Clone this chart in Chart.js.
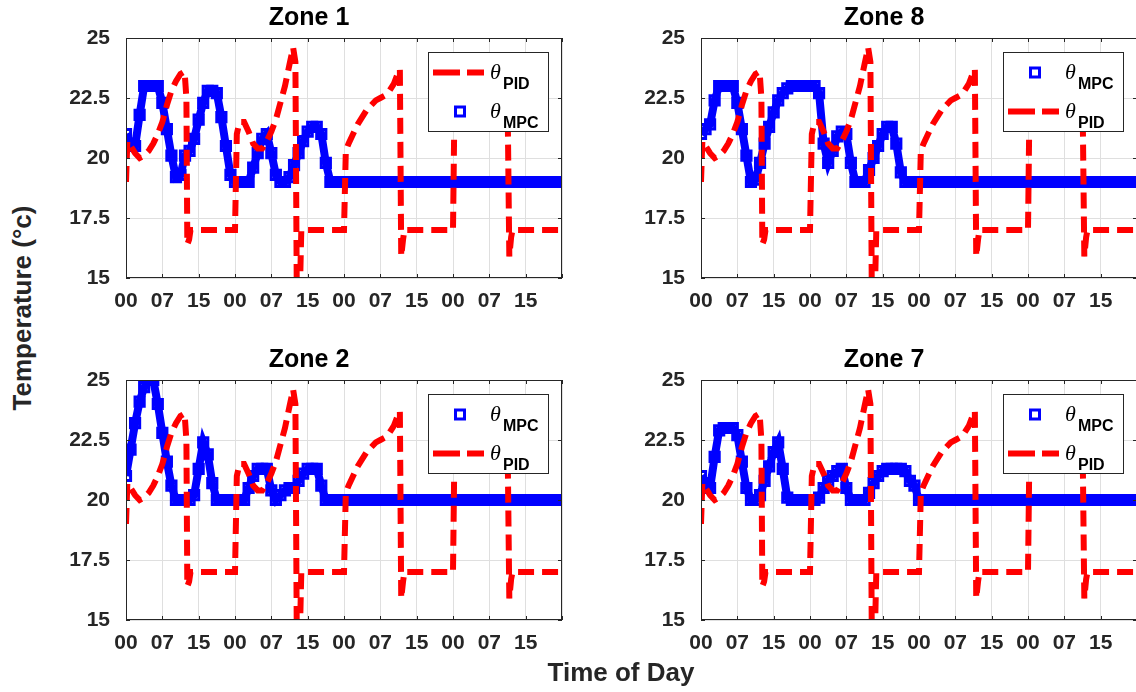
<!DOCTYPE html>
<html>
<head>
<meta charset="utf-8">
<script src="https://cdn.jsdelivr.net/npm/chart.js@4.4.1/dist/chart.umd.min.js"></script>
<style>
  html, body { margin: 0; padding: 0; background: #fff; }
  body { position: relative; width: 1136px; height: 692px; overflow: hidden; font-family: "Liberation Sans", Arial, sans-serif; }
  canvas { position: absolute; }
  .axis-label { position: absolute; font-weight: bold; font-size: 26px; color: #262626; white-space: nowrap; transform: translate(-50%, -50%); }
  #yLabel { left: 22px; top: 308px; transform: translate(-50%, -50%) rotate(-90deg); }
  #xLabel { left: 621px; top: 672px; }
</style>
</head>
<body>
<canvas id="zone1" width="520" height="318" style="left:56px;top:0px"></canvas>
<canvas id="zone8" width="520" height="318" style="left:631px;top:0px"></canvas>
<canvas id="zone2" width="520" height="318" style="left:56px;top:342px"></canvas>
<canvas id="zone7" width="520" height="318" style="left:631px;top:342px"></canvas>
<div id="yLabel" class="axis-label">Temperature (°c)</div>
<div id="xLabel" class="axis-label">Time of Day</div>
<script>
const hourTicks = ["00", "07", "15", "00", "07", "15", "00", "07", "15", "00", "07", "15", ""];
const tempTicks = ["15", "17.5", "20", "22.5", "25"];

// MPC samples, one per hour
const mpcHours = [0, 1, 2, 3, 4, 5, 6, 7, 8, 9, 10, 11, 12, 13, 14, 15, 16, 17, 18, 19,
  20, 21, 22, 23, 24, 25, 26, 27, 28, 29, 30, 31, 32, 33, 34, 35, 36, 37, 38, 39,
  40, 41, 42, 43, 44, 45, 46, 47, 48, 49, 50, 51, 52, 53, 54, 55, 56, 57, 58, 59,
  60, 61, 62, 63, 64, 65, 66, 67, 68, 69, 70, 71, 72, 73, 74, 75, 76, 77, 78, 79,
  80, 81, 82, 83, 84, 85, 86, 87, 88, 89, 90, 91, 92, 93, 94, 95, 96];

const zone1Mpc = [21.0, 20.6, 20.5, 21.8, 23.0, 23.0, 23.0, 23.0, 22.3, 21.2,
  20.1, 19.2, 19.3, 20.1, 20.3, 20.8, 21.6, 22.3, 22.8, 22.8,
  22.7, 21.7, 20.5, 19.3, 19.0, 19.0, 19.0, 19.0, 19.6, 20.2,
  20.8, 21.0, 20.2, 19.3, 19.0, 19.0, 19.2, 19.7, 20.2, 20.7,
  21.1, 21.3, 21.3, 21.0, 19.8, 19.0, 19.0, 19.0, 19.0, 19.0,
  19.0, 19.0, 19.0, 19.0, 19.0, 19.0, 19.0, 19.0, 19.0, 19.0,
  19.0, 19.0, 19.0, 19.0, 19.0, 19.0, 19.0, 19.0, 19.0, 19.0,
  19.0, 19.0, 19.0, 19.0, 19.0, 19.0, 19.0, 19.0, 19.0, 19.0,
  19.0, 19.0, 19.0, 19.0, 19.0, 19.0, 19.0, 19.0, 19.0, 19.0,
  19.0, 19.0, 19.0, 19.0, 19.0, 19.0, 19.0];

const zone8Mpc = [21.0, 21.2, 21.4, 22.4, 23.0, 23.0, 23.0, 23.0, 22.3, 21.2,
  20.1, 19.0, 19.1, 19.8, 20.6, 21.3, 21.9, 22.4, 22.7, 22.9,
  23.0, 23.0, 23.0, 23.0, 23.0, 23.0, 22.7, 20.6, 19.8, 20.3,
  20.9, 21.1, 21.0, 19.8, 19.0, 19.0, 19.0, 19.5, 20.0, 20.5,
  21.0, 21.3, 21.3, 20.6, 19.4, 19.0, 19.0, 19.0, 19.0, 19.0,
  19.0, 19.0, 19.0, 19.0, 19.0, 19.0, 19.0, 19.0, 19.0, 19.0,
  19.0, 19.0, 19.0, 19.0, 19.0, 19.0, 19.0, 19.0, 19.0, 19.0,
  19.0, 19.0, 19.0, 19.0, 19.0, 19.0, 19.0, 19.0, 19.0, 19.0,
  19.0, 19.0, 19.0, 19.0, 19.0, 19.0, 19.0, 19.0, 19.0, 19.0,
  19.0, 19.0, 19.0, 19.0, 19.0, 19.0, 19.0];

const zone2Mpc = [21.0, 22.1, 23.2, 24.1, 24.7, 25.0, 25.0, 24.0, 22.8, 21.6,
  20.6, 20.0, 20.0, 20.0, 20.0, 20.2, 21.3, 22.4, 21.9, 20.7,
  20.0, 20.0, 20.0, 20.0, 20.0, 20.0, 20.0, 20.5, 21.0, 21.3,
  21.3, 21.3, 20.4, 20.0, 20.2, 20.4, 20.5, 20.5, 20.8, 21.1,
  21.3, 21.3, 21.3, 20.6, 20.0, 20.0, 20.0, 20.0, 20.0, 20.0,
  20.0, 20.0, 20.0, 20.0, 20.0, 20.0, 20.0, 20.0, 20.0, 20.0,
  20.0, 20.0, 20.0, 20.0, 20.0, 20.0, 20.0, 20.0, 20.0, 20.0,
  20.0, 20.0, 20.0, 20.0, 20.0, 20.0, 20.0, 20.0, 20.0, 20.0,
  20.0, 20.0, 20.0, 20.0, 20.0, 20.0, 20.0, 20.0, 20.0, 20.0,
  20.0, 20.0, 20.0, 20.0, 20.0, 20.0, 20.0];

const zone7Mpc = [21.0, 20.7, 20.5, 21.8, 22.9, 23.0, 23.0, 23.0, 22.7, 21.6,
  20.5, 20.0, 20.0, 20.2, 20.8, 21.4, 22.0, 22.4, 21.3, 20.1,
  20.0, 20.0, 20.0, 20.0, 20.0, 20.0, 20.1, 20.5, 20.8, 21.0,
  21.2, 21.3, 20.5, 20.0, 20.0, 20.0, 20.0, 20.3, 20.7, 21.0,
  21.2, 21.3, 21.3, 21.3, 21.3, 21.2, 20.8, 20.6, 20.0, 20.0,
  20.0, 20.0, 20.0, 20.0, 20.0, 20.0, 20.0, 20.0, 20.0, 20.0,
  20.0, 20.0, 20.0, 20.0, 20.0, 20.0, 20.0, 20.0, 20.0, 20.0,
  20.0, 20.0, 20.0, 20.0, 20.0, 20.0, 20.0, 20.0, 20.0, 20.0,
  20.0, 20.0, 20.0, 20.0, 20.0, 20.0, 20.0, 20.0, 20.0, 20.0,
  20.0, 20.0, 20.0, 20.0, 20.0, 20.0, 20.0];

// PID trace is the same in every zone
const pidHours = [0, 0.3, 1, 2, 3, 4, 5, 6, 7, 8, 9, 10, 11, 12, 12.9, 13.3, 13.5, 13.9, 14.2,
  24.0, 24.4, 25, 26, 27, 28, 29, 30, 31, 32, 33, 34, 35, 36, 36.8, 37.3, 37.6, 38.3, 38.6,
  48.0, 48.4, 49, 50, 51, 52, 53, 54, 55, 56, 57, 58, 59, 60, 60.3, 60.6, 61.0, 61.3,
  72.0, 72.3, 74, 78, 83.8, 84.1, 84.4, 84.8, 85.1, 96];
const pidTemps = [19.0, 20.7, 20.5, 20.2, 20.0, 20.1, 20.3, 20.6, 21.0, 21.5, 22.2, 22.8, 23.2, 23.5, 23.6, 22.5, 16.4, 16.6, 17.0,
  17.0, 21.0, 21.5, 21.5, 21.1, 20.6, 20.4, 20.4, 20.7, 21.1, 21.6, 22.3, 23.0, 23.9, 24.6, 24.0, 14.5, 14.5, 17.0,
  17.0, 20.3, 20.6, 21.0, 21.4, 21.7, 22.0, 22.2, 22.4, 22.5, 22.6, 22.8, 23.1, 23.6, 23.7, 15.9, 16.6, 17.0,
  17.0, 21.8, 22.5, 23.2, 23.8, 21.0, 15.9, 16.7, 17.0, 17.0];

const zones = [
  { id: "zone1", title: "Zone 1", mpc: zone1Mpc, legend: ["PID", "MPC"] },
  { id: "zone8", title: "Zone 8", mpc: zone8Mpc, legend: ["MPC", "PID"] },
  { id: "zone2", title: "Zone 2", mpc: zone2Mpc, legend: ["MPC", "PID"] },
  { id: "zone7", title: "Zone 7", mpc: zone7Mpc, legend: ["MPC", "PID"] },
];

const RED = "#ff0000";
const BLUE = "#0000ff";
const INK = "#262626";
const FONT = "'Liberation Sans', Arial, sans-serif";

// box round the axes with inward ticks, like matlab
const frameBox = {
  id: "frameBox",
  afterDatasetsDraw(chart) {
    const { ctx, chartArea: { left, top, right, bottom }, scales: { x, y } } = chart;
    ctx.save();
    ctx.strokeStyle = INK;
    ctx.lineWidth = 1;
    ctx.strokeRect(left + 0.5, top + 0.5, right - left - 1, bottom - top - 1);
    ctx.beginPath();
    x.ticks.forEach((t) => {
      const px = Math.round(x.getPixelForValue(t.value)) + 0.5;
      ctx.moveTo(px, bottom); ctx.lineTo(px, bottom - 4);
      ctx.moveTo(px, top); ctx.lineTo(px, top + 4);
    });
    y.ticks.forEach((t) => {
      const py = Math.round(y.getPixelForValue(t.value)) + 0.5;
      ctx.moveTo(left, py); ctx.lineTo(left + 4, py);
      ctx.moveTo(right, py); ctx.lineTo(right - 4, py);
    });
    ctx.stroke();
    ctx.restore();
  },
};

// legend box with theta + subscript
const thetaLegend = {
  id: "thetaLegend",
  afterDraw(chart, args, opts) {
    const { ctx, chartArea } = chart;
    const w = 120, h = 79;
    const bx = Math.round(chartArea.right - 14 - w);
    const by = Math.round(chartArea.top + 14);
    ctx.save();
    ctx.fillStyle = "#fff";
    ctx.fillRect(bx, by, w, h);
    ctx.strokeStyle = INK;
    ctx.lineWidth = 1;
    ctx.strokeRect(bx + 0.5, by + 0.5, w, h);
    opts.order.forEach((name, i) => {
      const cy = by + 20.5 + i * 39;
      if (name === "PID") {
        ctx.strokeStyle = RED;
        ctx.lineWidth = 6;
        ctx.setLineDash([27, 7]);
        ctx.beginPath();
        ctx.moveTo(bx + 5, cy);
        ctx.lineTo(bx + 56, cy);
        ctx.stroke();
        ctx.setLineDash([]);
      } else {
        ctx.strokeStyle = BLUE;
        ctx.lineWidth = 3;
        ctx.strokeRect(bx + 27.5, cy - 4.5, 9, 9);
      }
      ctx.fillStyle = "#000";
      ctx.textAlign = "left";
      ctx.textBaseline = "alphabetic";
      ctx.font = "italic 22px 'Liberation Serif', serif";
      ctx.fillText("θ", bx + 62, cy + 6);
      ctx.font = "bold 16px " + FONT;
      ctx.fillText(name, bx + 75, cy + 16);
    });
    ctx.restore();
  },
};

function drawZone(zone) {
  const ctx = document.getElementById(zone.id).getContext("2d");
  return new Chart(ctx, {
    type: "line",
    data: {
      datasets: [
        {
          label: "θPID",
          data: pidHours.map((h, i) => ({ x: h, y: pidTemps[i] })),
          borderColor: RED,
          borderWidth: 6,
          borderDash: [16, 8],
          pointRadius: 0,
          fill: false,
        },
        {
          label: "θMPC",
          data: mpcHours.map((h, i) => ({ x: h, y: zone.mpc[i] })),
          borderColor: BLUE,
          borderWidth: 8,
          pointStyle: "rect",
          pointRadius: 6.5,
          pointBorderWidth: 3,
          pointBorderColor: BLUE,
          pointBackgroundColor: "rgba(0,0,0,0)",
          fill: false,
        },
      ],
    },
    options: {
      responsive: false,
      animation: false,
      devicePixelRatio: 1,
      layout: { padding: { left: 0, right: 14, top: 0, bottom: 0 } },
      plugins: {
        legend: { display: false },
        tooltip: { enabled: false },
        title: {
          display: true,
          text: zone.title,
          color: "#000",
          font: { family: FONT, size: 25, weight: "bold" },
          padding: { top: 3, bottom: 5 },
        },
        thetaLegend: { order: zone.legend },
      },
      scales: {
        x: {
          type: "linear",
          min: 0,
          max: 96,
          afterFit: (s) => { s.height = 40; },
          grid: { color: "#dfdfdf", drawTicks: false },
          border: { display: false },
          ticks: {
            stepSize: 8,
            autoSkip: false,
            maxRotation: 0,
            padding: 11,
            color: INK,
            font: { family: FONT, size: 21, weight: "bold" },
            callback: (v) => hourTicks[Math.round(v / 8)],
          },
        },
        y: {
          min: 15,
          max: 25,
          afterFit: (s) => { s.width = 70; },
          grid: { color: "#dfdfdf", drawTicks: false },
          border: { display: false },
          ticks: {
            stepSize: 2.5,
            padding: 16,
            color: INK,
            font: { family: FONT, size: 21, weight: "bold" },
            callback: (v) => tempTicks[Math.round((v - 15) / 2.5)],
          },
        },
      },
    },
    plugins: [frameBox, thetaLegend],
  });
}

zones.forEach(drawZone);
</script>
</body>
</html>
